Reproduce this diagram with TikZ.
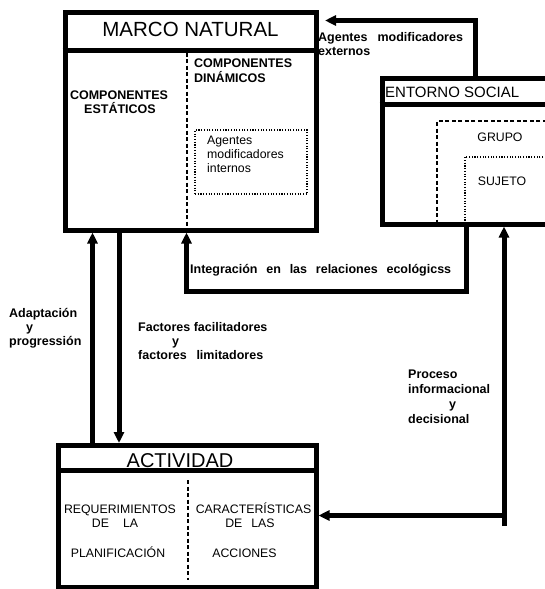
\documentclass[tikz,border=0pt]{standalone}
\usepackage{fontspec}
\setmainfont{Liberation Sans}
\usetikzlibrary{arrows.meta}
\begin{document}
\begin{tikzpicture}[x=1pt,y=-1pt,
  box/.style={draw, line width=5pt, rectangle, inner sep=0pt, anchor=north west},
  plain/.style={line width=5pt},
  conn/.style={line width=5pt, -{Triangle[length=11pt,width=10pt]}},
  titlebig/.style={font=\fontsize{20.5}{24}\selectfont, inner sep=0pt, anchor=base},
  titlemid/.style={font=\fontsize{15}{18}\selectfont, inner sep=0pt, anchor=base west},
  lbl/.style={font=\fontsize{12.5}{15}\selectfont\bfseries, inner sep=0pt, anchor=base west},
  lblc/.style={font=\fontsize{12.5}{15}\selectfont\bfseries, inner sep=0pt, anchor=base},
  txt/.style={font=\fontsize{12.3}{15}\selectfont, inner sep=0pt, anchor=base west},
  txtc/.style={font=\fontsize{12.3}{15}\selectfont, inner sep=0pt, anchor=base},
  dashline/.style={line width=1.1pt, dash pattern=on 4pt off 2.5pt},
  dotline/.style={line width=1.1pt, dash pattern=on 1.1pt off 1.6pt},
  dashbox/.style={dashline, draw, rectangle, inner sep=0pt, outer sep=0pt, anchor=north west},
  dotbox/.style={dotline, draw, rectangle, inner sep=0pt, outer sep=0pt, anchor=north west}
]
\path[use as bounding box, clip] (0,0) rectangle (545,589);
\fill[white] (0,0) rectangle (545,589);

% ---------- MARCO NATURAL ----------
\node[box, minimum width=251.5pt, minimum height=218pt] (marco) at (62.5,9.5) {};
\draw[plain] (marco.west |- 0,50) -- (marco.east |- 0,50);
\draw[dashline] (187,52.5) -- (187,227.5);
\node[titlebig] (marcot) at (190.5,36) {MARCO NATURAL};
\node[lblc] (est1) at (119,99) {COMPONENTES};
\node[lblc] (est2) at (120,113) {ESTÁTICOS};
\node[lbl] (din1) at (194,67) {COMPONENTES};
\node[lbl] (din2) at (194,82) {DINÁMICOS};
\node[dotbox, minimum width=112pt, minimum height=64pt] (internos) at (195,130) {};
\node[txt] (int1) at (207,144) {Agentes};
\node[txt] (int2) at (207,158) {modificadores};
\node[txt] (int3) at (207,172) {internos};

% ---------- ENTORNO SOCIAL ----------
\node[box, minimum width=180pt, minimum height=146pt] (entorno) at (379.5,75.5) {};
\draw[plain] (entorno.west |- 0,104.5) -- (entorno.east |- 0,104.5);
\node[titlemid] (entornot) at (385,97) {ENTORNO SOCIAL};
\node[dashbox, minimum width=130pt, minimum height=103pt] (grupo) at (437,121) {};
\node[dotbox, minimum width=100pt, minimum height=67pt] (sujeto) at (465,157) {};
\node[txtc] (grupot) at (500,141) {GRUPO};
\node[txtc] (sujetot) at (502,185) {SUJETO};

% ---------- ACTIVIDAD ----------
\node[box, minimum width=257.5pt, minimum height=142pt] (actividad) at (56,443) {};
\draw[plain] (actividad.west |- 0,470.5) -- (actividad.east |- 0,470.5);
\draw[dashline] (188,480) -- (188,580);
\node[titlebig, font=\fontsize{20}{24}\selectfont] (activt) at (180,467) {ACTIVIDAD};
\node[txtc] (req1) at (120,513) {REQUERIMIENTOS};
\node[txtc] (req2) at (115,527) {DE\hspace{14pt}LA};
\node[txtc] (req3) at (118,557) {PLANIFICACIÓN};
\node[txtc] (car1) at (253.5,513) {CARACTERÍSTICAS};
\node[txtc] (car2) at (250,527) {DE\hspace{9pt}LAS};
\node[txtc] (car3) at (244.5,557) {ACCIONES};

% ---------- connectors ----------
\coordinate (e1) at (475,20.5);
\draw[conn, shorten >=6pt] (entorno.north -| e1) -- (e1) -- (marco.east |- e1);
\node[lbl] (ext1) at (318,41) {Agentes\hspace{10pt}modificadores};
\node[lbl] (ext2) at (318,55) {externos};

\coordinate (i1) at (466,291.5);
\coordinate (i2) at (186.5,291.5);
\draw[conn] (entorno.south -| i1) -- (i1) -- (i2) -- (marco.south -| i2);
\node[lbl] (integ) at (190,273) {Integración\hspace{8.8pt}en\hspace{8.8pt}las\hspace{8.8pt}relaciones\hspace{8.8pt}ecológicss};

\coordinate (a1) at (92.5,0);
\draw[conn] (actividad.north -| a1) -- (marco.south -| a1);
\node[lbl] (ad1) at (9,317) {Adaptación};
\node[lbl] (ad2) at (26,331) {y};
\node[lbl] (ad3) at (9,345) {progressión};

\coordinate (f1) at (119,0);
\draw[conn] (marco.south -| f1) -- (actividad.north -| f1);
\node[lbl] (fa1) at (138,331) {Factores facilitadores};
\node[lbl] (fa2) at (172,345) {y};
\node[lbl] (fa3) at (138,359) {factores\hspace{9.7pt}limitadores};

\coordinate (p0) at (504,526);
\coordinate (p1) at (506.5,515.5);
\draw[conn] (p0) -- (entorno.south -| p0);
\draw[conn] (p1) -- (actividad.east |- p1);
\node[lbl] (pr1) at (408,378) {Proceso};
\node[lbl] (pr2) at (408,393) {informacional};
\node[lbl] (pr3) at (449,408) {y};
\node[lbl] (pr4) at (408,423) {decisional};
\end{tikzpicture}
\end{document}
